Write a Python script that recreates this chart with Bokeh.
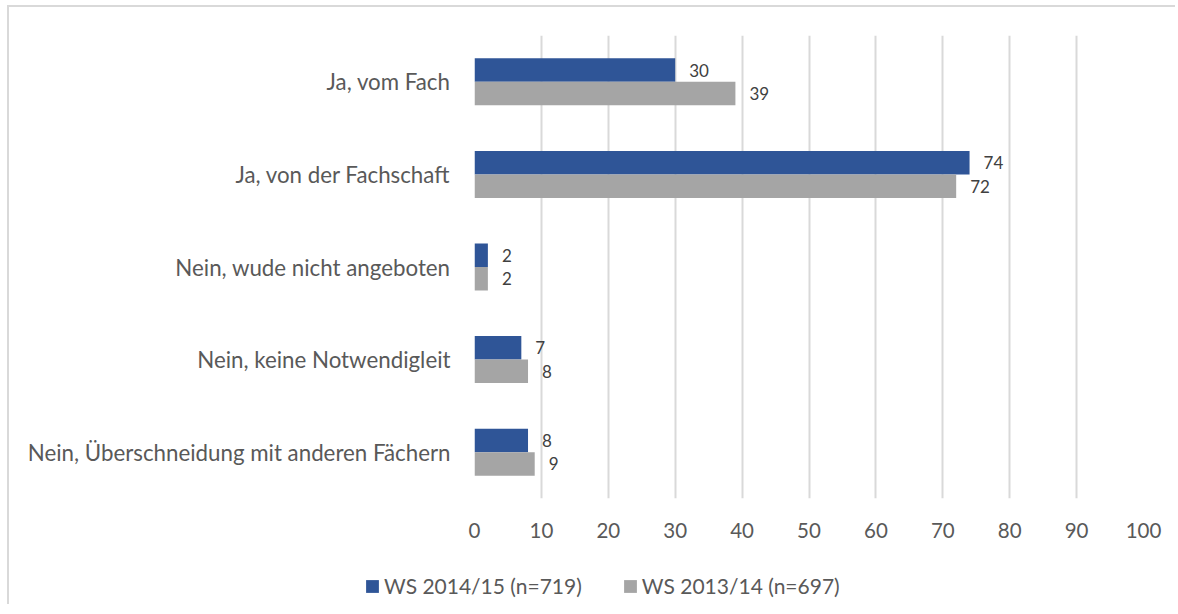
from bokeh.plotting import figure
from bokeh.layouts import column
from bokeh.models import FactorRange, ColumnDataSource, Legend, LegendItem
from bokeh.transform import dodge
from bokeh.core.properties import value
from bokeh.embed import file_html
from bokeh.resources import INLINE

categories = [
    "Ja, vom Fach",
    "Ja, von der Fachschaft",
    "Nein, wude nicht angeboten",
    "Nein, keine Notwendigleit",
    "Nein, Überschneidung mit anderen Fächern",
]
ws_2014_15 = [30, 74, 2, 7, 8]
ws_2013_14 = [39, 72, 2, 8, 9]
series_names = ["WS 2014/15 (n=719)", "WS 2013/14 (n=697)"]
x_ticks = list(range(0, 101, 10))

BLUE = "#2F5597"
GRAY = "#A5A5A5"
TEXT = "#595959"
FONT = "Lato"
W = 1166

src = ColumnDataSource(dict(
    cat=categories,
    v1=ws_2014_15,
    v2=ws_2013_14,
    l1=[str(v) for v in ws_2014_15],
    l2=[str(v) for v in ws_2013_14],
))

p = figure(
    width=W, height=541,
    y_range=FactorRange(factors=list(reversed(categories)), range_padding=0),
    x_range=(0, 100),
    output_backend="svg", toolbar_location=None,
    min_border_left=465, min_border_right=W - 465 - 669, min_border_top=28, min_border_bottom=50,
)

r1 = p.hbar(y=dodge("cat", 0.127, range=p.y_range), left=0, right="v1", height=0.254,
            color=BLUE, line_color=None, source=src)
r2 = p.hbar(y=dodge("cat", -0.127, range=p.y_range), left=0, right="v2", height=0.254,
            color=GRAY, line_color=None, source=src)

p.text(x="v1", y=dodge("cat", 0.127, range=p.y_range), text="l1", source=src,
       x_offset=14, text_baseline="middle", text_align="left",
       text_font=value(FONT), text_font_size="17px", text_color="#404040")
p.text(x="v2", y=dodge("cat", -0.127, range=p.y_range), text="l2", source=src,
       x_offset=14, text_baseline="middle", text_align="left",
       text_font=value(FONT), text_font_size="17px", text_color="#404040")

p.xaxis.ticker = x_ticks
p.xgrid.ticker = x_ticks
p.xgrid.grid_line_color = "#D9D9D9"
p.xgrid.grid_line_width = 2
p.ygrid.grid_line_color = None
p.outline_line_color = None

for ax in (p.xaxis[0], p.yaxis[0]):
    ax.axis_line_color = None
    ax.major_tick_line_color = None
    ax.minor_tick_line_color = None
    ax.major_tick_out = 0
    ax.major_tick_in = 0
    ax.major_label_text_font = FONT
    ax.major_label_text_color = TEXT
p.xaxis.major_label_text_font_size = "20.5px"
p.yaxis.major_label_text_font_size = "22.3px"
p.xaxis.major_label_standoff = 24
p.yaxis.major_label_standoff = 24

# legend strip below the chart (proxies carry only the series colours)
pl = figure(width=W, height=56, x_range=(0, 1), y_range=(0, 1),
            output_backend="svg", toolbar_location=None,
            min_border_left=0, min_border_right=0, min_border_top=0, min_border_bottom=0)
pl.frame_align = False
pl.axis.visible = False
pl.grid.visible = False
pl.outline_line_color = None
proxy = ColumnDataSource(dict(y=[0.5], r=[0.0]))
lr1 = pl.hbar(y="y", right="r", left=0, height=0, color=BLUE, line_color=None, source=proxy)
lr2 = pl.hbar(y="y", right="r", left=0, height=0, color=GRAY, line_color=None, source=proxy)

legend = Legend(items=[LegendItem(label=series_names[0], renderers=[lr1]),
                       LegendItem(label=series_names[1], renderers=[lr2])],
                orientation="horizontal", location=(355, 6),
                padding=0, margin=0, spacing=40,
                glyph_width=16, glyph_height=16, label_standoff=4, label_height=24,
                label_text_font=FONT, label_text_font_size="21px", label_text_color=TEXT,
                border_line_color=None, background_fill_alpha=0)
pl.add_layout(legend, "center")

layout = column(p, pl, spacing=0,
                styles={"border-top": "2px solid #D9D9D9", "border-left": "2px solid #D9D9D9",
                        "margin-left": "7px", "margin-top": "5px"})

open("out.html", "w").write(file_html(layout, INLINE))
